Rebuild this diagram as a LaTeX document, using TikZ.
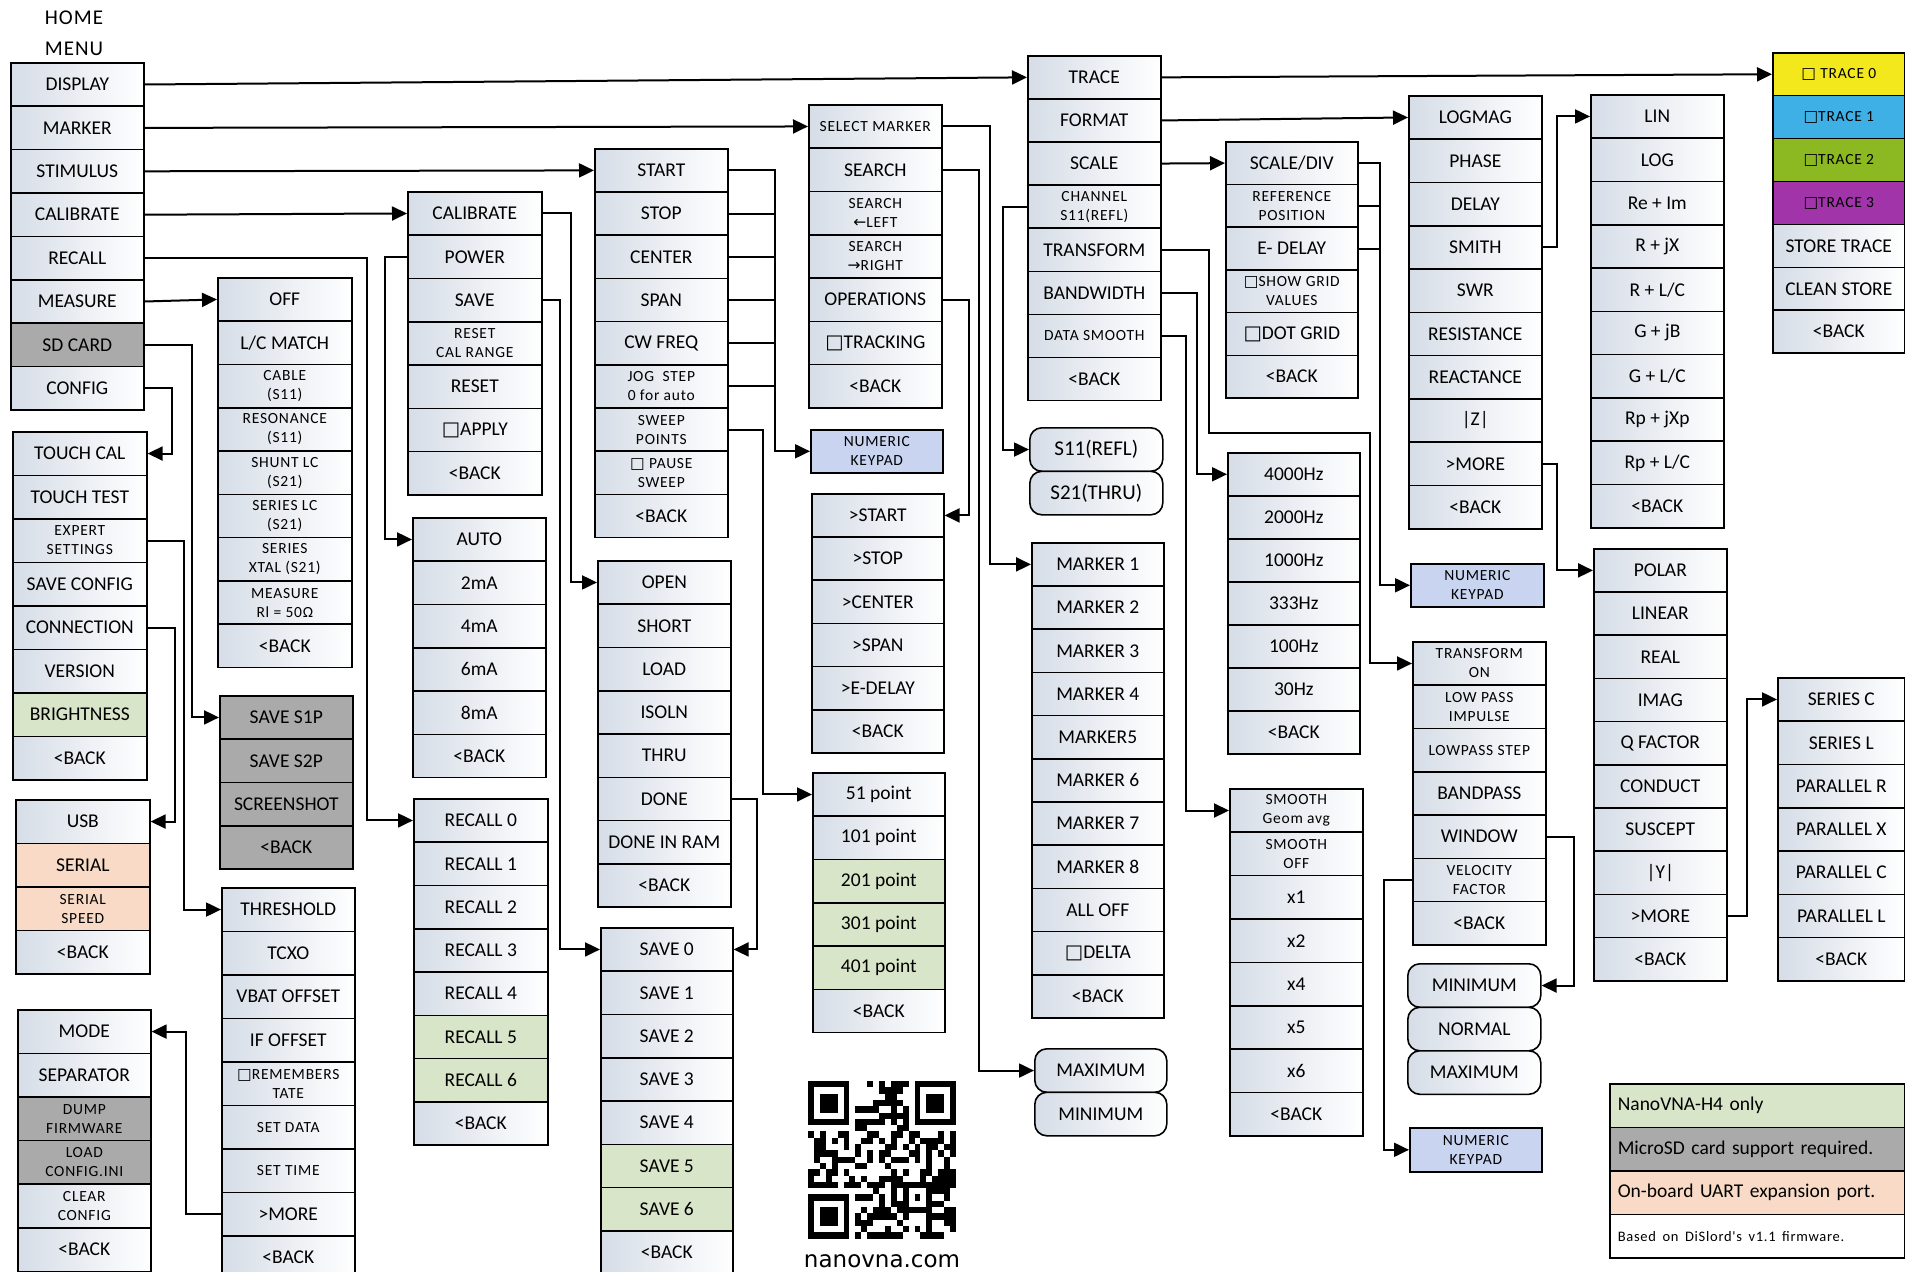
\documentclass[tikz,border=0pt]{standalone}
\usepackage{fontspec}
\setmainfont{Carlito}
\newfontfamily\lsfont[LetterSpace=5]{Carlito}
\newfontfamily\symfont{DejaVu Sans}
\usetikzlibrary{arrows.meta}
\newcommand\fmain{\fontsize{19.5}{21}\selectfont}
\newcommand\fsmall{\lsfont\fontsize{15.5}{19}\selectfont}
\newcommand\mybox{{\symfont □}}
\newcommand\myla{{\symfont ←}}
\newcommand\myra{{\symfont →}}
\definecolor{cellL}{RGB}{214,221,231}
\definecolor{gcell}{RGB}{217,229,200}
\definecolor{kcell}{RGB}{170,170,170}
\definecolor{pcell}{RGB}{248,218,198}
\definecolor{bcell}{RGB}{200,212,240}
\definecolor{trY}{RGB}{242,232,28}
\definecolor{trB}{RGB}{62,176,230}
\definecolor{trG}{RGB}{140,184,34}
\definecolor{trP}{RGB}{162,52,170}
\tikzset{
  cb0/.style={draw=black, line width=1.6pt, inner sep=0pt, anchor=north west, align=center, text=black, font=\fmain},
  cw/.style={cb0, left color=cellL, right color=white},
  cws/.style={cw, font=\fsmall},
  cg/.style={cb0, fill=gcell},
  ck/.style={cb0, fill=kcell},
  cks/.style={ck, font=\fsmall},
  cp/.style={cb0, fill=pcell},
  cps/.style={cp, font=\fsmall},
  cbl/.style={cb0, fill=bcell, font=\fsmall},
  cty/.style={cb0, fill=trY, font=\fsmall},
  ctb/.style={cb0, fill=trB, font=\fsmall},
  ctg/.style={cb0, fill=trG, font=\fsmall},
  ctp/.style={cb0, fill=trP, font=\fsmall},
  rw/.style={cw, rounded corners=12pt},
  rwl/.style={rw, font=\fontsize{21}{23}\selectfont},
  lgg/.style={cb0, fill=gcell, text width=279pt, align=left, inner xsep=8pt},
  lgk/.style={cb0, fill=kcell, text width=279pt, align=left, inner xsep=8pt},
  lgp/.style={cb0, fill=pcell, text width=279pt, align=left, inner xsep=8pt},
  lgw/.style={cb0, fill=white, text width=279pt, align=left, inner xsep=8pt},
  conn/.style={line width=2pt},
  arr/.style={conn, -{Triangle[length=15pt,width=14pt]}}
}
\newcommand\mcol[6]{%
  \foreach [count=\cn] \st/\tx in {#6} {%
    \node[\st, minimum width=#4pt, minimum height=#5pt] (#1\cn) at (#2, {#3+#5*(\cn-1)}) {\tx};
  }%
}
\begin{document}
\begin{tikzpicture}[x=1pt, y=-1pt]
\useasboundingbox (0,0) rectangle (1905,1271);
\clip (0,0) rectangle (1905,1271);
\fill[white] (0,0) rectangle (1905,1271);

\node[font=\lsfont\fontsize{21}{31}\selectfont, align=center, text=black] (homelbl) at (74,33) {HOME\\MENU};

\mcol{hm}{10}{62}{133}{43.4}{cw/DISPLAY, cw/MARKER, cw/STIMULUS, cw/CALIBRATE, cw/RECALL, cw/MEASURE, ck/{SD CARD}, cw/CONFIG}
\mcol{cf}{12}{431}{134}{43.5}{cw/{TOUCH CAL}, cw/{TOUCH TEST}, cws/{EXPERT\\SETTINGS}, cw/{SAVE CONFIG}, cw/CONNECTION, cw/VERSION, cg/BRIGHTNESS, cw/{<BACK}}
\mcol{us}{15}{799}{134}{43.5}{cw/USB, cp/SERIAL, cps/{SERIAL\\SPEED}, cw/{<BACK}}
\mcol{md}{17}{1009}{133}{43.6}{cw/MODE, cw/SEPARATOR, cks/{DUMP\\FIRMWARE}, cks/{LOAD\\CONFIG.INI}, cws/{CLEAR\\CONFIG}, cw/{<BACK}}
\mcol{ms}{217}{277}{134}{43.3}{cw/OFF, cw/{L/C MATCH}, cws/{CABLE\\(S11)}, cws/{RESONANCE\\(S11)}, cws/{SHUNT LC\\(S21)}, cws/{SERIES LC\\(S21)}, cws/{SERIES\\XTAL (S21)}, cws/{MEASURE\\Rl = 50Ω}, cw/{<BACK}}
\mcol{sd}{219}{695}{133}{43.3}{ck/{SAVE S1P}, ck/{SAVE S2P}, ck/SCREENSHOT, ck/{<BACK}}
\mcol{ex}{221}{887}{133}{43.5}{cw/THRESHOLD, cw/TCXO, cw/{VBAT OFFSET}, cw/{IF OFFSET}, cws/{\mybox REMEMBERS\\TATE}, cws/{SET DATA}, cws/{SET TIME}, cw/{>MORE}, cw/{<BACK}}
\mcol{ca}{407}{191}{134}{43.3}{cw/CALIBRATE, cw/POWER, cw/SAVE, cws/{RESET\\CAL RANGE}, cw/RESET, cw/{\mybox APPLY}, cw/{<BACK}}
\mcol{pw}{412}{517}{133}{43.3}{cw/AUTO, cw/2mA, cw/4mA, cw/6mA, cw/8mA, cw/{<BACK}}
\mcol{rc}{413}{798}{134}{43.3}{cw/{RECALL 0}, cw/{RECALL 1}, cw/{RECALL 2}, cw/{RECALL 3}, cw/{RECALL 4}, cg/{RECALL 5}, cg/{RECALL 6}, cw/{<BACK}}
\mcol{st}{594}{148}{133}{43.2}{cw/START, cw/STOP, cw/CENTER, cw/SPAN, cw/{CW FREQ}, cws/{JOG\ \ STEP\\0 for auto}, cws/{SWEEP\\POINTS}, cws/{\mybox\ PAUSE\\SWEEP}, cw/{<BACK}}
\mcol{cl}{597}{560}{133}{43.3}{cw/OPEN, cw/SHORT, cw/LOAD, cw/ISOLN, cw/THRU, cw/DONE, cw/{DONE IN RAM}, cw/{<BACK}}
\mcol{sv}{600}{927}{132}{43.3}{cw/{SAVE 0}, cw/{SAVE 1}, cw/{SAVE 2}, cw/{SAVE 3}, cw/{SAVE 4}, cg/{SAVE 5}, cg/{SAVE 6}, cw/{<BACK}}
\mcol{mk}{808}{104}{133}{43.3}{cws/{SELECT MARKER}, cw/SEARCH, cws/{SEARCH\\\myla LEFT}, cws/{SEARCH\\\myra RIGHT}, cw/OPERATIONS, cw/{\mybox TRACKING}, cw/{<BACK}}
\node[cbl, minimum width=132pt, minimum height=43pt] (kp1) at (810,429) {NUMERIC\\KEYPAD};
\mcol{op}{811}{493}{132}{43.2}{cw/{>START}, cw/{>STOP}, cw/{>CENTER}, cw/{>SPAN}, cw/{>E-DELAY}, cw/{<BACK}}
\mcol{sp}{812}{772}{132}{43.3}{cw/{51 point}, cw/{101 point}, cg/{201 point}, cg/{301 point}, cg/{401 point}, cw/{<BACK}}
\mcol{dp}{1027}{55}{133}{43.1}{cw/TRACE, cw/FORMAT, cw/SCALE, cws/{CHANNEL\\S11(REFL)}, cw/TRANSFORM, cw/BANDWIDTH, cws/{DATA SMOOTH}, cw/{<BACK}}
\mcol{ch}{1029}{427}{133}{43.5}{rwl/{S11(REFL)}, rwl/{S21(THRU)}}
\mcol{sl}{1031}{542}{132}{43.2}{cw/{MARKER 1}, cw/{MARKER 2}, cw/{MARKER 3}, cw/{MARKER 4}, cw/MARKER5, cw/{MARKER 6}, cw/{MARKER 7}, cw/{MARKER 8}, cw/{ALL OFF}, cw/{\mybox DELTA}, cw/{<BACK}}
\mcol{sr}{1034}{1048}{132}{43.5}{rw/MAXIMUM, rw/MINIMUM}
\mcol{sc}{1225}{141}{132}{42.7}{cw/{SCALE/DIV}, cws/{REFERENCE\\POSITION}, cw/{E- DELAY}, cws/{\mybox SHOW GRID\\VALUES}, cw/{\mybox DOT GRID}, cw/{<BACK}}
\mcol{bw}{1227}{452}{132}{43}{cw/4000Hz, cw/2000Hz, cw/1000Hz, cw/333Hz, cw/100Hz, cw/30Hz, cw/{<BACK}}
\mcol{ds}{1229}{788}{133}{43.4}{cws/{SMOOTH\\Geom avg}, cws/{SMOOTH\\OFF}, cw/x1, cw/x2, cw/x4, cw/x5, cw/x6, cw/{<BACK}}
\mcol{fm}{1408}{95}{133}{43.3}{cw/LOGMAG, cw/PHASE, cw/DELAY, cw/SMITH, cw/SWR, cw/RESISTANCE, cw/REACTANCE, cw/{|Z|}, cw/{>MORE}, cw/{<BACK}}
\node[cbl, minimum width=133pt, minimum height=43pt] (kp2) at (1410,563) {NUMERIC\\KEYPAD};
\mcol{tf}{1412}{641}{133}{43.3}{cws/{TRANSFORM\\ON}, cws/{LOW PASS\\IMPULSE}, cws/{LOWPASS STEP}, cw/BANDPASS, cw/WINDOW, cws/{VELOCITY\\FACTOR}, cw/{<BACK}}
\mcol{wn}{1407}{963}{133}{43.5}{rw/MINIMUM, rw/NORMAL, rw/MAXIMUM}
\node[cbl, minimum width=132pt, minimum height=44pt] (kp3) at (1409,1127) {NUMERIC\\KEYPAD};
\mcol{sw}{1590}{94}{133}{43.3}{cw/LIN, cw/LOG, cw/{Re + Im}, cw/{R + jX}, cw/{R + L/C}, cw/{G + jB}, cw/{G + L/C}, cw/{Rp + jXp}, cw/{Rp + L/C}, cw/{<BACK}}
\mcol{pm}{1593}{548}{133}{43.2}{cw/POLAR, cw/LINEAR, cw/REAL, cw/IMAG, cw/{Q FACTOR}, cw/CONDUCT, cw/SUSCEPT, cw/{|Y|}, cw/{>MORE}, cw/{<BACK}}
\mcol{tr}{1772}{52}{132}{42.9}{cty/{\mybox\ TRACE 0}, ctb/{\mybox TRACE 1}, ctg/{\mybox TRACE 2}, ctp/{\mybox TRACE 3}, cw/{STORE TRACE}, cw/{CLEAN STORE}, cw/{<BACK}}
\mcol{mo}{1777}{677}{127}{43.3}{cw/{SERIES C}, cw/{SERIES L}, cw/{PARALLEL R}, cw/{PARALLEL X}, cw/{PARALLEL C}, cw/{PARALLEL L}, cw/{<BACK}}
\mcol{lg}{1609}{1083}{295}{43.5}{lgg/{NanoVNA-H4 only}, lgk/{MicroSD card support required.}, lgp/{On-board UART expansion port.}, lgw/{\lsfont\fontsize{14.5}{17}\selectfont Based on DiSlord's v1.1 firmware.}}

% QR code
\begin{scope}[shift={(808,1081)}, x=5.92pt, y=-6.3pt]
  \pgfmathsetseed{7}
  \foreach \i in {0,...,24}{
    \foreach \j in {0,...,24}{
      \pgfmathtruncatemacro\qon{(rnd<0.5)&&!((\i<8&&\j<8)||(\i<8&&\j>16)||(\i>16&&\j<8)||(\i>15&&\i<21&&\j>15&&\j<21))}
      \ifnum\qon=1 \fill (\j,\i) rectangle ++(1,1);\fi
    }
  }
  \foreach \a/\b in {0/0,18/0,0/18}{
    \fill (\a,\b) rectangle ++(7,7);
    \fill[white] (\a+1,\b+1) rectangle ++(5,5);
    \fill (\a+2,\b+2) rectangle ++(3,3);
  }
  \fill (16,16) rectangle ++(5,5);
  \fill[white] (17,17) rectangle ++(3,3);
  \fill (18,18) rectangle ++(1,1);
\end{scope}
\node[font=\symfont\fontsize{23}{26}\selectfont, anchor=base, text=black] (site) at (882,1267) {nanovna.com};

% connectors
\draw[arr] (hm1.east) -- (dp1.west);
\draw[arr] (dp1.east) -- (tr1.west);
\draw[arr] (hm2.east) -- (mk1.west);
\draw[arr] (hm3.east) -- (st1.west);
\draw[arr] (hm4.east) -- (ca1.west);
\draw[arr] (hm5.east) -| ([xshift=-46pt]rc1.west) -- (rc1.west);
\draw[arr] (hm6.east) -- (ms1.west);
\draw[arr] (hm7.east) -| ([xshift=-27pt]sd1.west) -- (sd1.west);
\draw[arr] (hm8.east) -| ([xshift=24pt]cf1.east) -- (cf1.east);
\draw[arr] (cf3.east) -| ([xshift=-37pt]ex1.west) -- (ex1.west);
\draw[arr] (cf5.east) -| ([xshift=24pt]us1.east) -- (us1.east);
\draw[arr] (ex8.west) -| ([xshift=34pt]md1.east) -- (md1.east);
\draw[arr] (ca1.east) -| ([xshift=-26pt]cl1.west) -- (cl1.west);
\draw[arr] (ca2.west) -| ([xshift=-27pt]pw1.west) -- (pw1.west);
\draw[arr] (ca3.east) -| ([xshift=-40pt]sv1.west) -- (sv1.west);
\draw[arr] (cl6.east) -| ([xshift=23pt]sv1.east) -- (sv1.east);
\coordinate (stbus) at ([xshift=-35pt]kp1.west);
\draw[arr] (st1.east) -| (stbus) -- (kp1.west);
\foreach \k in {2,...,6} \draw[conn] (st\k.east) -- (st\k.east -| stbus);
\draw[arr] (st7.east) -| ([xshift=-49pt]sp1.west) -- (sp1.west);
\draw[arr] (mk1.east) -| ([xshift=-41pt]sl1.west) -- (sl1.west);
\draw[arr] (mk2.east) -| ([xshift=-55pt]sr1.west) -- (sr1.west);
\draw[arr] (mk5.east) -| ([xshift=24pt]op1.east) -- (op1.east);
\draw[arr] (dp2.east) -- (fm1.west);
\draw[arr] (dp3.east) -- (sc1.west);
\draw[arr] (dp4.west) -| ([xshift=-26pt]ch1.west) -- (ch1.west);
\draw[arr] (dp5.east) -| ([xshift=-18pt,yshift=19pt]bw1.north west) -| ([xshift=-42pt]tf1.west) -- (tf1.west);
\draw[arr] (dp6.east) -| ([xshift=-30pt]bw1.west) -- (bw1.west);
\draw[arr] (dp7.east) -| ([xshift=-43pt]ds1.west) -- (ds1.west);
\coordinate (scbus) at ([xshift=-30pt]kp2.west);
\draw[arr] (sc1.east) -| (scbus) -- (kp2.west);
\foreach \k in {2,3} \draw[conn] (sc\k.east) -- (sc\k.east -| scbus);
\draw[arr] (fm4.east) -| ([xshift=-33pt]sw1.west) -- (sw1.west);
\draw[arr] (fm9.east) -| ([xshift=-36pt]pm1.west) -- (pm1.west);
\draw[arr] (pm9.east) -| ([xshift=-30pt]mo1.west) -- (mo1.west);
\draw[arr] (tf5.east) -| ([xshift=32pt]wn1.east) -- (wn1.east);
\draw[arr] (tf6.west) -| ([xshift=-25pt]kp3.west) -- (kp3.west);
\end{tikzpicture}
\end{document}
